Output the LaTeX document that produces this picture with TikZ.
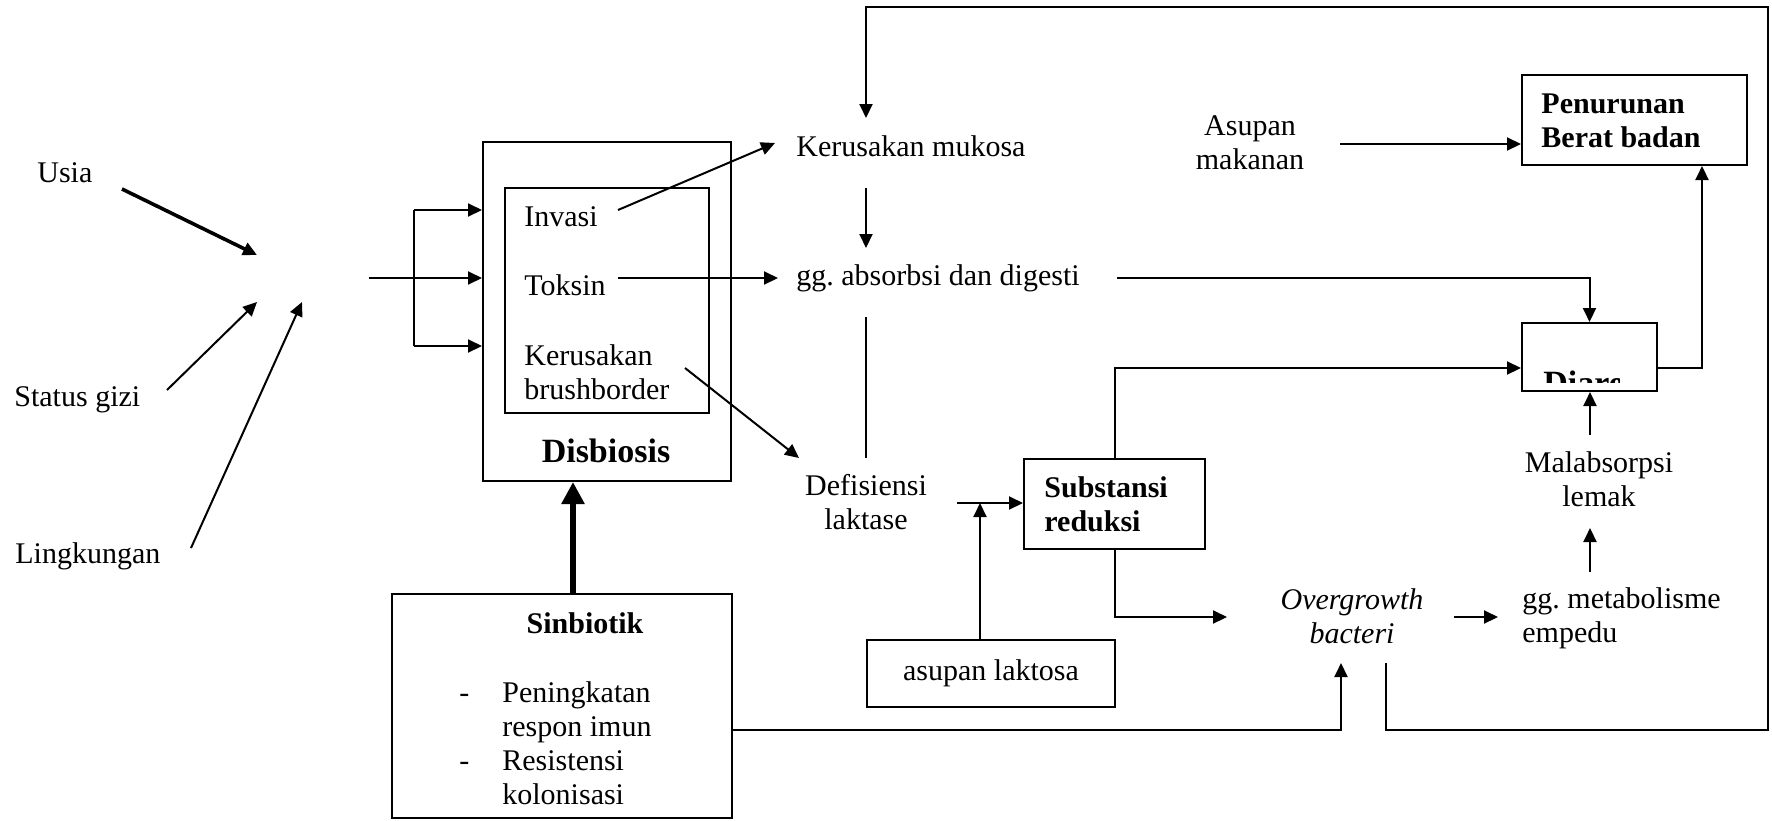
\documentclass[tikz,border=0pt]{standalone}
\usepackage{fontspec}
\setmainfont{Liberation Serif}
\frenchspacing
\usetikzlibrary{arrows.meta}
\begin{document}
\begin{tikzpicture}[x=0.5pt,y=-0.5pt,
  txt/.style={inner sep=0pt, font=\fontsize{15pt}{17pt}\selectfont},
  itxt/.style={inner sep=0pt, font=\fontsize{15pt}{17pt}\selectfont\itshape},
  btxt/.style={inner sep=0pt, font=\fontsize{15pt}{17pt}\selectfont\bfseries},
  bigb/.style={inner sep=0pt, font=\fontsize{17pt}{19pt}\selectfont\bfseries},
  box/.style={draw, line width=1pt, inner sep=0pt, rectangle},
  arr/.style={line width=1pt, -{Triangle[length=7pt,width=6.5pt]}},
  thickarr/.style={line width=3pt, -{Triangle[length=11pt,width=11pt]}},
  ln/.style={line width=1pt},
]
\useasboundingbox (0,0) rectangle (1772,820);

% ---------- boxes ----------
\node[box, minimum width=124pt, minimum height=169.5pt] (disb) at (607,311.5) {};
\node[box, minimum width=102pt, minimum height=112.5pt] (inner) at (607,300.5) {};
\node[box, txt, minimum width=124pt, minimum height=33.5pt] (laktosa) at (991,673.5) {asupan laktosa};
\node[box, minimum width=90.5pt, minimum height=45pt] (subs) at (1114.5,504) {};
\node[box, minimum width=67.5pt, minimum height=34pt] (diare) at (1589.5,357) {};
\node[box, minimum width=112.5pt, minimum height=45pt] (turun) at (1634.5,120) {};
\node[box, minimum width=170pt, minimum height=112pt] (sinb) at (562,706) {};

% ---------- texts (multi-line nodes anchored at last baseline) ----------
\node[txt, anchor=base west] (usia) at (37,182) {Usia};
\node[txt, anchor=base west] (gizi) at (14,406) {Status gizi};
\node[txt, anchor=base west] (lingk) at (15,563) {Lingkungan};

\node[txt, anchor=base west] (invasi) at (524,226) {Invasi};
\node[txt, anchor=base west] (toksin) at (524,295) {Toksin};
\node[txt, anchor=base west, align=left] (brush) at (524,399) {Kerusakan\\brushborder};
\node[bigb, anchor=base] (disbt) at (606,462) {Disbiosis};

\node[txt, anchor=base west] (mukosa) at (796,156) {Kerusakan mukosa};
\node[txt, anchor=base west] (absorb) at (796,285) {gg. absorbsi dan digesti};
\node[txt, anchor=base, align=center] (defis) at (866,529) {Defisiensi\\laktase};
\node[btxt, anchor=base west, align=left] (subst) at (1044,531) {Substansi\\reduksi};
\node[itxt, anchor=base, align=center] (over) at (1352,643) {Overgrowth\\bacteri};
\node[txt, anchor=base west, align=left] (meta) at (1522,642) {gg. metabolisme\\empedu};
\node[txt, anchor=base, align=center] (malab) at (1599,506) {Malabsorpsi\\lemak};
\node[txt, anchor=base, align=center] (asupan) at (1250,169) {Asupan\\makanan};
\node[btxt, anchor=base west, align=left] (turunt) at (1541,147) {Penurunan\\Berat badan};

\begin{scope}
  \clip (1522,323) rectangle (1619,382);
  \node[bigb, anchor=base west] (diaret) at (1543,394) {Diare};
\end{scope}

\node[btxt, anchor=base] (sinbt) at (585,633) {Sinbiotik};
\node[txt, anchor=base west] (dash1) at (459,702) {-};
\node[txt, anchor=base west] (dash2) at (459,770) {-};
\node[txt, anchor=base west, align=left] (sinl) at (502,804) {Peningkatan\\respon imun\\Resistensi\\kolonisasi};

% ---------- free ends ----------
\coordinate (u1) at (122,189);  \coordinate (u2) at (257,255);
\coordinate (g1) at (167,390);  \coordinate (g2) at (257,302);
\coordinate (l1) at (191,548);  \coordinate (l2) at (302,302);
\coordinate (in0) at (369,278);
\coordinate (brtop) at (414,210); \coordinate (brbot) at (414,346);
\coordinate (invA) at (618,210); \coordinate (mukIn) at (775,143);
\coordinate (tokA) at (618,278); \coordinate (absIn) at (778,278);
\coordinate (brA) at (685,368);  \coordinate (defIn) at (799,458);
\coordinate (mukOut) at (866,188); \coordinate (absTop) at (866,248);
\coordinate (absBot) at (866,317); \coordinate (defTop) at (866,458);
\coordinate (absOut) at (1117,278);
\coordinate (defOut) at (957,503);
\coordinate (lakTip) at (980,503);
\coordinate (ovIn) at (1227,617);
\coordinate (ovOut) at (1454,617); \coordinate (metaIn) at (1498,617);
\coordinate (metaOut) at (1590,572); \coordinate (malIn) at (1590,528);
\coordinate (malOut) at (1590,435);
\coordinate (asOut) at (1340,144);
\coordinate (ovBot) at (1341,663);
\coordinate (ovLoop) at (1386,663);
\coordinate (loopR) at (1768,730);
\coordinate (loopT) at (1768,7);
\coordinate (mukTop) at (866,118);

% ---------- connectors ----------
\draw[arr, line width=1.8pt] (u1) -- (u2);
\draw[arr] (g1) -- (g2);
\draw[arr] (l1) -- (l2);

\draw[arr] (in0) -- (in0 -| disb.west);
\draw[ln] (brtop) -- (brbot);
\draw[arr] (brtop) -- (brtop -| disb.west);
\draw[arr] (brbot) -- (brbot -| disb.west);

\draw[arr] (invA) -- (mukIn);
\draw[arr] (tokA) -- (absIn);
\draw[arr] (brA) -- (defIn);
\draw[arr] (mukOut) -- (absTop);
\draw[ln] (absBot) -- (defTop);
\draw[arr] (absOut) -| (diare.north);

\draw[arr] (defOut) -- (defOut -| subs.west);
\draw[arr] (laktosa.north -| lakTip) -- (lakTip);
\draw[arr] (subs.north) |- (diare.west |- 0,368);
\draw[arr] (subs.south) |- (ovIn);
\draw[arr] (ovOut) -- (metaIn);
\draw[arr] (metaOut) -- (malIn);
\draw[arr] (malOut) -- (diare.south -| malOut);
\draw[arr] (diare.east |- 0,368) -| (turun.south -| 1702,0);
\draw[arr] (asOut) -- (turun.west |- asOut);

\draw[thickarr] (sinb.north -| 573,0) -- (disb.south -| 573,0);
\draw[arr] (sinb.east |- 0,730) -| (ovBot);
\draw[arr] (ovLoop) |- (loopR) -- (loopT) -| (mukTop);
\end{tikzpicture}
\end{document}
